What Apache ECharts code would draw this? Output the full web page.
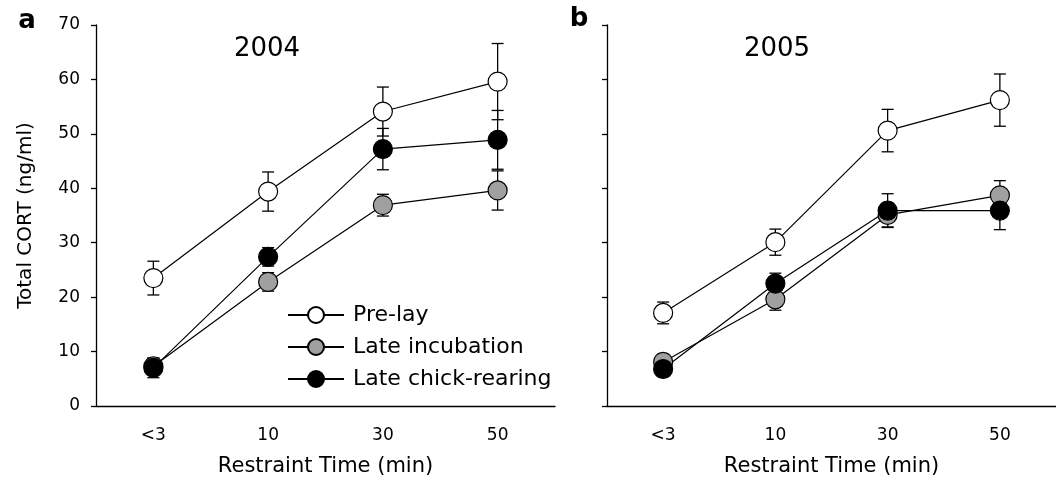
<!DOCTYPE html>
<html>
<head>
<meta charset="utf-8">
<script src="https://cdn.jsdelivr.net/npm/echarts@6/dist/echarts.min.js"></script>
<style>
  html, body { margin: 0; padding: 0; background: #fff; }
  #chart { width: 1056px; height: 485px; }
</style>
</head>
<body>
<div id="chart"></div>
<script>
// categories on the x axis (restraint time)
var categories = ["<3", "10", "30", "50"];

// 2004 (panel a): means and standard errors
var pre2004 = [23.5, 39.4, 54.1, 59.6];
var pre2004Err = [3.1, 3.6, 4.5, 7.0];
var inc2004 = [7.3, 22.8, 36.9, 39.6];
var inc2004Err = [1.5, 1.7, 2.0, 3.6];
var chick2004 = [7.0, 27.4, 47.2, 48.9];
var chick2004Err = [1.8, 1.7, 3.8, 5.4];

// 2005 (panel b)
var pre2005 = [17.1, 30.1, 50.6, 56.2];
var pre2005Err = [2.0, 2.4, 3.9, 4.8];
var inc2005 = [8.1, 19.6, 35.1, 38.7];
var inc2005Err = [1.4, 2.0, 2.2, 2.7];
var chick2005 = [6.8, 22.5, 35.9, 35.9];
var chick2005Err = [1.1, 1.9, 3.1, 3.5];

var yTicks = { min: 0, max: 70, interval: 10 };

var FONT = "'DejaVu Sans', sans-serif";
var chart = echarts.init(document.getElementById("chart"));

// error bar drawn through the axis scale
function errRender(params, api) {
  var i = api.value(0);
  var v = api.value(1);
  var e = api.value(2);
  var top = api.coord([i, v + e]);
  var bot = api.coord([i, v - e]);
  var hw = 6;
  var st = { stroke: "#000", lineWidth: 1.3 };
  return {
    type: "group",
    children: [
      { type: "line", shape: { x1: top[0], y1: top[1], x2: bot[0], y2: bot[1] }, style: st },
      { type: "line", shape: { x1: top[0] - hw, y1: top[1], x2: top[0] + hw, y2: top[1] }, style: st },
      { type: "line", shape: { x1: bot[0] - hw, y1: bot[1], x2: bot[0] + hw, y2: bot[1] }, style: st },
    ],
  };
}

function errSeries(idx, vals, errs) {
  return {
    type: "custom",
    xAxisIndex: idx,
    yAxisIndex: idx,
    renderItem: errRender,
    encode: { x: 0, y: 1 },
    z: 1,
    silent: true,
    data: vals.map(function (v, i) {
      return [i, v, errs[i]];
    }),
  };
}

function lineSeries(idx, name, vals, color) {
  return {
    name: name,
    type: "line",
    xAxisIndex: idx,
    yAxisIndex: idx,
    symbol: "circle",
    symbolSize: 19,
    z: 2,
    lineStyle: { color: "#000", width: 1.2 },
    itemStyle: { color: color, borderColor: "#000", borderWidth: 1.2 },
    data: vals,
  };
}

function xAxis(idx) {
  return {
    type: "category",
    gridIndex: idx,
    data: categories,
    boundaryGap: true,
    name: "Restraint Time (min)",
    nameLocation: "middle",
    nameGap: 50,
    nameTextStyle: { fontFamily: FONT, fontSize: 21, color: "#000" },
    axisLine: { lineStyle: { color: "#000", width: 1.3 } },
    axisTick: { alignWithLabel: true, length: 5, lineStyle: { color: "#000", width: 1.3 } },
    axisLabel: { fontFamily: FONT, fontSize: 17, color: "#000", margin: 21 },
    splitLine: { show: false },
  };
}

function yAxis(idx, showLabel) {
  return {
    type: "value",
    gridIndex: idx,
    min: yTicks.min,
    max: yTicks.max,
    interval: yTicks.interval,
    name: showLabel ? "Total CORT (ng/ml)" : "",
    nameLocation: "middle",
    nameGap: 60,
    nameTextStyle: { fontFamily: FONT, fontSize: 20, color: "#000" },
    axisLine: { show: true, lineStyle: { color: "#000", width: 1.3 } },
    axisTick: { show: true, length: 5, lineStyle: { color: "#000", width: 1.3 } },
    axisLabel: { show: showLabel, fontFamily: FONT, fontSize: 17, color: "#000", margin: 16 },
    splitLine: { show: false },
  };
}

var option = {
  backgroundColor: "#fff",
  animation: false,
  grid: [
    { left: 96, top: 25, width: 459, height: 381 },
    { left: 607, top: 25, width: 459, height: 381 },
  ],
  xAxis: [xAxis(0), xAxis(1)],
  yAxis: [yAxis(0, true), yAxis(1, false)],
  legend: {
    orient: "vertical",
    left: 282,
    top: 299,
    itemWidth: 56,
    itemHeight: 20,
    itemGap: 10,
    data: ["Pre-lay", "Late incubation", "Late chick-rearing"],
    textStyle: { fontFamily: FONT, fontSize: 22, lineHeight: 22, color: "#000", padding: [0, 0, 0, 4] },
  },
  graphic: [
    { type: "text", x: 27, y: 21, style: { text: "a", font: "bold 26px " + FONT, fill: "#000", align: "center", verticalAlign: "middle" } },
    { type: "text", x: 579, y: 19, style: { text: "b", font: "bold 26px " + FONT, fill: "#000", align: "center", verticalAlign: "middle" } },
    { type: "text", x: 267, y: 49, style: { text: "2004", font: "26px " + FONT, fill: "#000", align: "center", verticalAlign: "middle" } },
    { type: "text", x: 777, y: 49, style: { text: "2005", font: "26px " + FONT, fill: "#000", align: "center", verticalAlign: "middle" } },
  ],
  series: [
    errSeries(0, pre2004, pre2004Err),
    errSeries(0, inc2004, inc2004Err),
    errSeries(0, chick2004, chick2004Err),
    lineSeries(0, "Pre-lay", pre2004, "#ffffff"),
    lineSeries(0, "Late incubation", inc2004, "#a0a0a0"),
    lineSeries(0, "Late chick-rearing", chick2004, "#000000"),
    errSeries(1, pre2005, pre2005Err),
    errSeries(1, inc2005, inc2005Err),
    errSeries(1, chick2005, chick2005Err),
    lineSeries(1, "Pre-lay", pre2005, "#ffffff"),
    lineSeries(1, "Late incubation", inc2005, "#a0a0a0"),
    lineSeries(1, "Late chick-rearing", chick2005, "#000000"),
  ],
};

chart.setOption(option);
</script>
</body>
</html>
